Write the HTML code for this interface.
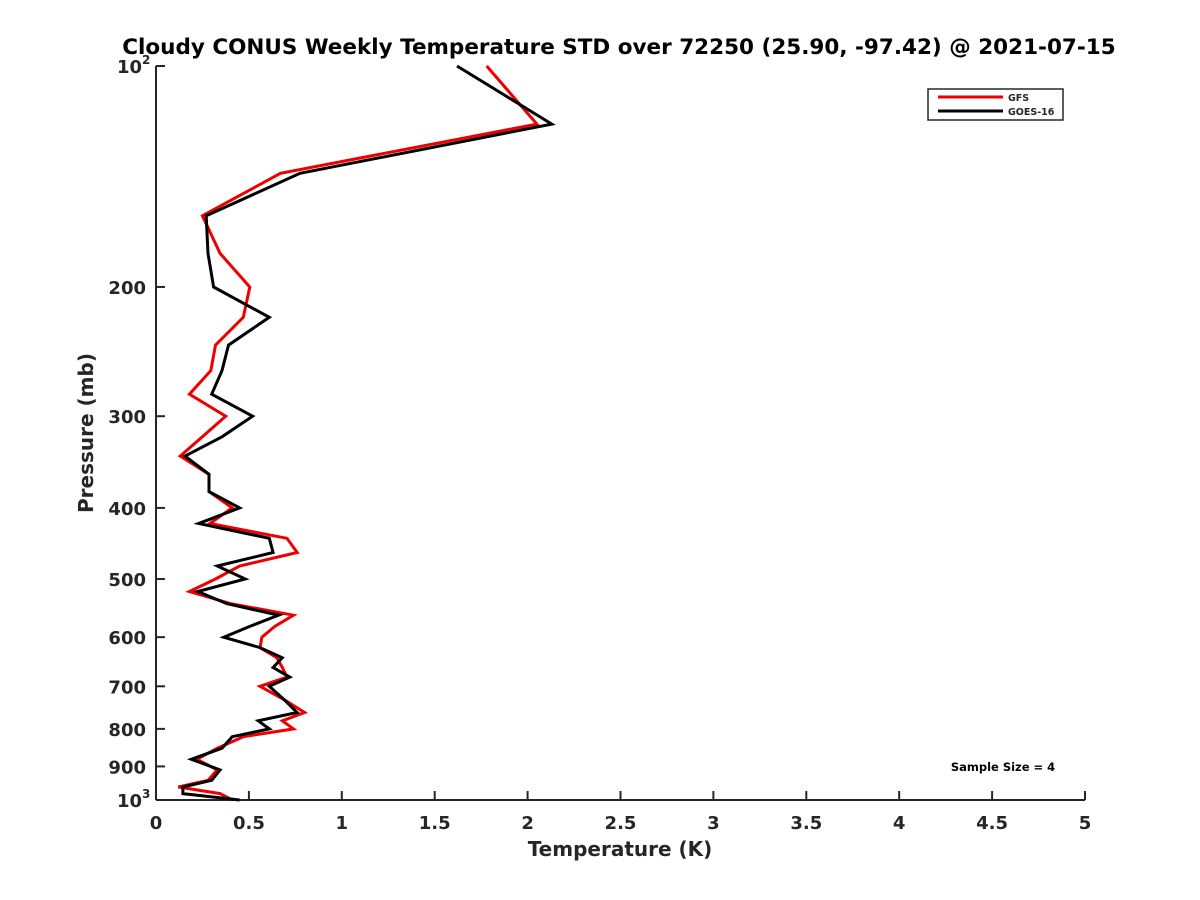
<!DOCTYPE html>
<html><head><meta charset="utf-8"><style>
body{margin:0;background:#fff;}
svg{display:block;font-family:"DejaVu Sans","Liberation Sans",sans-serif;font-weight:bold;}
</style></head><body>
<svg id="chart" width="1200" height="900" xmlns="http://www.w3.org/2000/svg">
<rect width="1200" height="900" fill="#fff"/>
<text x="619" y="54" text-anchor="middle" font-size="21.5" fill="#000">Cloudy CONUS Weekly Temperature STD over 72250 (25.90, -97.42) @ 2021-07-15</text>
<g id="axes"></g>
<g id="series"></g>
<g>
<rect x="928" y="89" width="135" height="31" fill="#fff" stroke="#262626" stroke-width="1.5"/>
<line x1="938" y1="97" x2="1003" y2="97" stroke="#e00" stroke-width="3"/>
<text x="1008" y="101" font-size="9.5" fill="#262626">GFS</text>
<line x1="938" y1="111" x2="1003" y2="111" stroke="#000" stroke-width="3"/>
<text x="1008" y="115" font-size="9.5" fill="#262626">GOES-16</text>
</g>
<text x="1003" y="771" text-anchor="middle" font-size="11.5" fill="#000">Sample Size = 4</text>
<text x="620" y="856" text-anchor="middle" font-size="20" fill="#262626">Temperature (K)</text>
<text transform="translate(93,433) rotate(-90)" text-anchor="middle" font-size="20" fill="#262626">Pressure (mb)</text>
</svg>
<script>
const pressure=[100,120,140,160,180,200,220,240,260,280,300,320,340,360,380,400,420,440,460,480,500,520,540,560,580,600,620,640,660,680,700,730,760,780,800,820,850,880,910,940,960,980,1000];
const gfs=[1.78,2.05,0.67,0.25,0.345,0.505,0.47,0.32,0.295,0.18,0.375,0.25,0.13,0.285,0.285,0.41,0.29,0.705,0.76,0.45,0.32,0.18,0.40,0.74,0.64,0.57,0.56,0.65,0.68,0.705,0.56,0.69,0.80,0.68,0.74,0.47,0.33,0.22,0.33,0.28,0.12,0.345,0.41];
const goes=[1.62,2.13,0.775,0.27,0.28,0.31,0.61,0.39,0.355,0.30,0.52,0.355,0.156,0.285,0.285,0.45,0.23,0.61,0.63,0.33,0.48,0.225,0.38,0.66,0.505,0.365,0.56,0.68,0.63,0.72,0.61,0.69,0.76,0.55,0.61,0.41,0.355,0.19,0.345,0.30,0.145,0.145,0.45];
const xTicks=[0,0.5,1,1.5,2,2.5,3,3.5,4,4.5,5];
const xTickLabels=["0","0.5","1","1.5","2","2.5","3","3.5","4","4.5","5"];
const yTicks=[100,200,300,400,500,600,700,800,900,1000];
const yTickLabels=["","200","300","400","500","600","700","800","900",""];
const X0=156,X1=1085,Y0=66,Y1=800;
function xs(v){return X0+(v-0)/(5-0)*(X1-X0);}
function ys(p){return Y0+(Math.log10(p)-2)*(Y1-Y0);}
const NS="http://www.w3.org/2000/svg";
const axes=document.getElementById('axes');
const series=document.getElementById('series');
function mk(tag,attrs,parent){const e=document.createElementNS(NS,tag);for(const k in attrs)e.setAttribute(k,attrs[k]);parent.appendChild(e);return e;}
const ya=mk('line',{x1:X0,y1:Y0,x2:X0,y2:Y1,stroke:'#262626','stroke-width':2},axes);


const xa=mk('line',{x1:X0,y1:Y1,x2:X1,y2:Y1,stroke:'#262626','stroke-width':2},axes);


xTicks.forEach((v,i)=>{
  const t=mk('line',{x1:xs(v),y1:Y1,x2:xs(v),y2:Y1-9,stroke:'#262626','stroke-width':2},axes);
  
  
  const l=mk('text',{x:xs(v),y:Y1+29,'text-anchor':'middle','font-size':18,fill:'#262626'},axes);
  l.textContent=xTickLabels[i];
  
  
});
yTicks.forEach((p,i)=>{
  const t=mk('line',{x1:X0,y1:ys(p),x2:X0+9,y2:ys(p),stroke:'#262626','stroke-width':2},axes);
  
  
  if(yTickLabels[i]){
    const l=mk('text',{x:X0-10,y:ys(p)+7,'text-anchor':'end','font-size':18,fill:'#262626'},axes);
    l.textContent=yTickLabels[i];
    
    
  }
});
[[100,"2",Y0+7],[1000,"3",Y1+7]].forEach(a=>{
  const l=mk('text',{x:X0-14,y:a[2],'text-anchor':'end','font-size':18,fill:'#262626'},axes);
  l.textContent="10";
  
  
  const s=mk('text',{x:X0-14,y:a[2]-9,'font-size':12,fill:'#262626'},axes);
  s.textContent=a[1];
  
  
});
function draw(vals,color,name){
  const pts=vals.map((v,i)=>xs(v).toFixed(1)+','+ys(pressure[i]).toFixed(1)).join(' ');
  const pl=mk('polyline',{points:pts,fill:'none',stroke:color,'stroke-width':3,'stroke-linejoin':'miter'},series);
  
  
}
draw(gfs,'#e00','gfs-line');
draw(goes,'#000','goes16-line');
</script>
</body></html>
